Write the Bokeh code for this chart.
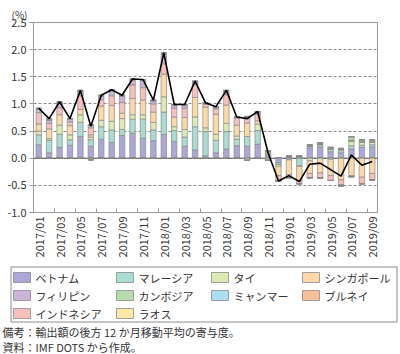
import math
from bokeh.plotting import figure
from bokeh.layouts import column
from bokeh.core.properties import value
from bokeh.models import (Range1d, FixedTicker, NumeralTickFormatter, Span, Title, Label,
                          ColumnDataSource)
from bokeh.embed import file_html
from bokeh.resources import INLINE

months = ["2017/01", "2017/02", "2017/03", "2017/04", "2017/05", "2017/06",
          "2017/07", "2017/08", "2017/09", "2017/10", "2017/11", "2017/12",
          "2018/01", "2018/02", "2018/03", "2018/04", "2018/05", "2018/06",
          "2018/07", "2018/08", "2018/09", "2018/10", "2018/11", "2018/12",
          "2019/01", "2019/02", "2019/03", "2019/04", "2019/05", "2019/06",
          "2019/07", "2019/08", "2019/09"]

vietnam = [.25, .10, .20, .24, .40, .22, .35, .29, .42, .46, .37, .32,
           .44, .31, .22, .15, .05, .10, .17, .23, .22, .26,
           .05, -.09, .03, .03, .19, .20, .12, .10, .17, .20, .21]
malaysia = [.18, .23, .24, .10, .26, .12, .23, .23, .11, .26, .35, .20,
            .41, .20, .17, .43, .44, .23, .32, .12, .18, .25,
            .03, -.03, -.02, -.14, .03, .03, .05, .04, .06, .04, .04]
thailand = [.07, .03, .17, .09, .14, .05, .12, .16, .20, .08, .08, .14,
            .28, .07, .14, .18, .07, .11, .15, .06, -.04, .12,
            -.04, -.03, -.01, -.01, -.05, .03, -.02, .03, .09, .06, .05]
singapore = [.13, .18, .19, .17, .10, .04, .26, .29, .10, .30, .27, .19,
             .42, .18, .22, .36, .38, .37, .34, .20, .25, .06,
             .03, -.17, -.27, -.27, -.23, -.27, -.30, -.40, -.32, -.35, -.28]
philippines = [.06, .06, .08, .05, .08, .05, .06, .09, .11, .09, .13, .05,
               .17, .05, .05, .04, .02, .02, .06, .01, .02, .03,
               .01, -.01, .01, .01, .01, .01, .01, .01, .01, .01, .01]
cambodia = [.01, .01, .01, .01, .01, -.03, .01, .01, .01, .01, .01, .01,
            .02, .01, .01, .01, .01, .01, .01, .01, .01, .01,
            0, 0, -.01, 0, .02, .01, .02, -.02, .06, .03, .03]
myanmar = [.01, .01, .01, 0, .01, .01, .01, .01, .01, .01, .01, .01,
           .01, .01, .01, .01, 0, .01, .01, 0, .01, .01,
           0, 0, 0, 0, 0, 0, 0, 0, .01, 0, 0]
brunei = [0, .01, .01, 0, 0, 0, 0, 0, 0, 0, 0, 0,
          0, 0, 0, 0, 0, 0, 0, 0, 0, 0,
          0, 0, 0, 0, 0, 0, 0, 0, 0, 0, 0]
indonesia = [.21, .10, .13, .07, .25, .13, .12, .18, .20, .25, .23, .15,
             .19, .16, .17, .24, .05, .10, .19, .13, .08, .12,
             .02, -.09, -.05, -.05, -.08, -.10, -.09, -.09, -.02, -.12, -.12]
laos = [0, 0, 0, 0, 0, 0, 0, 0, 0, 0, 0, 0,
        0, 0, 0, 0, 0, 0, 0, 0, 0, 0,
        0, 0, 0, 0, 0, 0, 0, 0, 0, 0, 0]

legend_names = ["ベトナム", "マレーシア", "タイ", "シンガポール", "フィリピン",
                "カンボジア", "ミャンマー", "ブルネイ", "インドネシア", "ラオス"]
series = {"ベトナム": vietnam, "マレーシア": malaysia, "タイ": thailand,
          "シンガポール": singapore, "フィリピン": philippines, "カンボジア": cambodia,
          "ミャンマー": myanmar, "ブルネイ": brunei, "インドネシア": indonesia, "ラオス": laos}
colors = {"ベトナム": "#aba7d8", "マレーシア": "#a9ddd1", "タイ": "#dcebb3",
          "シンガポール": "#fdd9a5", "フィリピン": "#cdb2d9", "カンボジア": "#b6dbac",
          "ミャンマー": "#aadff2", "ブルネイ": "#f7bf97", "インドネシア": "#f9bfba",
          "ラオス": "#fde8a5"}
stack_order = ["ベトナム", "マレーシア", "タイ", "シンガポール", "インドネシア",
               "フィリピン", "カンボジア", "ミャンマー", "ブルネイ", "ラオス"]
notes = ["備考：輸出額の後方 12 か月移動平均の寄与度。", "資料：IMF DOTS から作成。"]

FONT = "Noto Sans CJK JP"
BAR_LINE = "#8a8a8a"
TXT = "#333333"
n = len(months)
xs = list(range(n))
data = {"x": xs}
for k, name in enumerate(stack_order):
    data[f"p{k}"] = [max(v, 0) for v in series[name]]
    data[f"n{k}"] = [min(v, 0) for v in series[name]]
data["total"] = [round(sum(series[nm][i] for nm in stack_order), 4) for i in range(n)]
src = ColumnDataSource(data)

p = figure(width=400, height=262, output_backend="svg", toolbar_location=None,
           x_range=Range1d(-0.5, n - 0.5), y_range=Range1d(-1.0, 2.5),
           min_border_left=33, min_border_right=23, min_border_top=22, min_border_bottom=50)
p.frame_align = False
p.outline_line_color = "#9a9a9a"
p.outline_line_width = 1
p.background_fill_color = "white"

p.xgrid.visible = False
p.ygrid.grid_line_color = "#8a8a8a"
p.ygrid.grid_line_dash = "3 2"
p.ygrid.grid_line_width = 1

zero = Span(location=0, dimension="width", line_color="#555555", line_width=1, level="underlay")
p.add_layout(zero)

fills = [colors[nm] for nm in stack_order]
pos_r = p.vbar_stack([f"p{k}" for k in range(len(stack_order))], x="x", width=0.52,
                     fill_color=fills, line_color=BAR_LINE, line_width=0.7, source=src)
neg_r = p.vbar_stack([f"n{k}" for k in range(len(stack_order))], x="x", width=0.52,
                     fill_color=fills, line_color=BAR_LINE, line_width=0.7, source=src)
p.line(x="x", y="total", source=src, line_color="black", line_width=1.6)

# axes
p.yaxis.ticker = FixedTicker(ticks=[-1.0, -0.5, 0.0, 0.5, 1.0, 1.5, 2.0, 2.5])
p.yaxis.formatter = NumeralTickFormatter(format="0.0")
p.yaxis.major_tick_out = 4
p.yaxis.major_tick_in = 0
p.yaxis.minor_tick_line_color = None
p.yaxis.axis_line_color = "#9a9a9a"
p.yaxis.major_tick_line_color = "#9a9a9a"
p.yaxis.major_label_text_font = FONT
p.yaxis.major_label_text_font_size = "11px"
p.yaxis.major_label_text_color = TXT
p.yaxis.major_label_standoff = 3

label_pos = xs[0::2]
p.xaxis.ticker = FixedTicker(ticks=label_pos, minor_ticks=[-0.5] + [i + 1.5 for i in label_pos][:-1])
p.xaxis.major_label_overrides = {i: months[i] for i in label_pos}
p.xaxis.major_label_orientation = math.pi / 2
p.xaxis.major_tick_line_color = None
p.xaxis.major_tick_out = 0
p.xaxis.major_tick_in = 0
p.xaxis.minor_tick_in = 4
p.xaxis.minor_tick_out = 0
p.xaxis.minor_tick_line_color = "#9a9a9a"
p.xaxis.axis_line_color = "#9a9a9a"
p.xaxis.major_label_text_font = FONT
p.xaxis.major_label_text_font_size = "11px"
p.xaxis.major_label_text_color = TXT
p.xaxis.major_label_standoff = 4

# unit label
p.add_layout(Title(text="(%)", align="left", offset=-22, standoff=2,
                   text_font=FONT, text_font_size="10px", text_color=TXT,
                   text_font_style="normal"), "above")

# legend + notes panel (pixel coordinates, y up)
QH = 92
q = figure(width=400, height=QH, output_backend="svg", toolbar_location=None,
           x_range=Range1d(0, 400), y_range=Range1d(0, QH),
           x_axis_location=None, y_axis_location=None,
           min_border_left=0, min_border_right=0, min_border_top=0, min_border_bottom=0)
q.frame_align = False
q.outline_line_color = None
q.xgrid.visible = False
q.ygrid.visible = False

# legend frame
q.quad(left=[10.5], right=[396.5], top=[87.5], bottom=[32.5], fill_color="white",
       line_color="#8c8c8c", line_width=1)
col_x = [13, 116, 211, 302]
row_y = [77, 59, 41]
sw_l, sw_r, sw_t, sw_b, tx, ty = [], [], [], [], [], []
for idx, nm in enumerate(legend_names):
    r, c = divmod(idx, 4)
    sw_l.append(col_x[c])
    sw_r.append(col_x[c] + 17)
    sw_t.append(row_y[r] + 5)
    sw_b.append(row_y[r] - 5)
    tx.append(col_x[c] + 22)
    ty.append(row_y[r])
q.quad(left=sw_l, right=sw_r, top=sw_t, bottom=sw_b,
       fill_color=[colors[nm] for nm in legend_names], line_color=BAR_LINE, line_width=0.8)
q.text(x=tx, y=ty, text=legend_names, text_font=value(FONT), text_font_size="11px",
       text_color=TXT, text_baseline="middle", text_align="left")

for j, t in enumerate(notes):
    q.add_layout(Label(x=2, y=23 - 15 * j, x_units="screen", y_units="screen", text=t,
                       text_font=FONT, text_font_size="11px", text_color=TXT,
                       text_baseline="middle"))

open("out.html", "w").write(file_html(column(p, q, spacing=0), INLINE))
